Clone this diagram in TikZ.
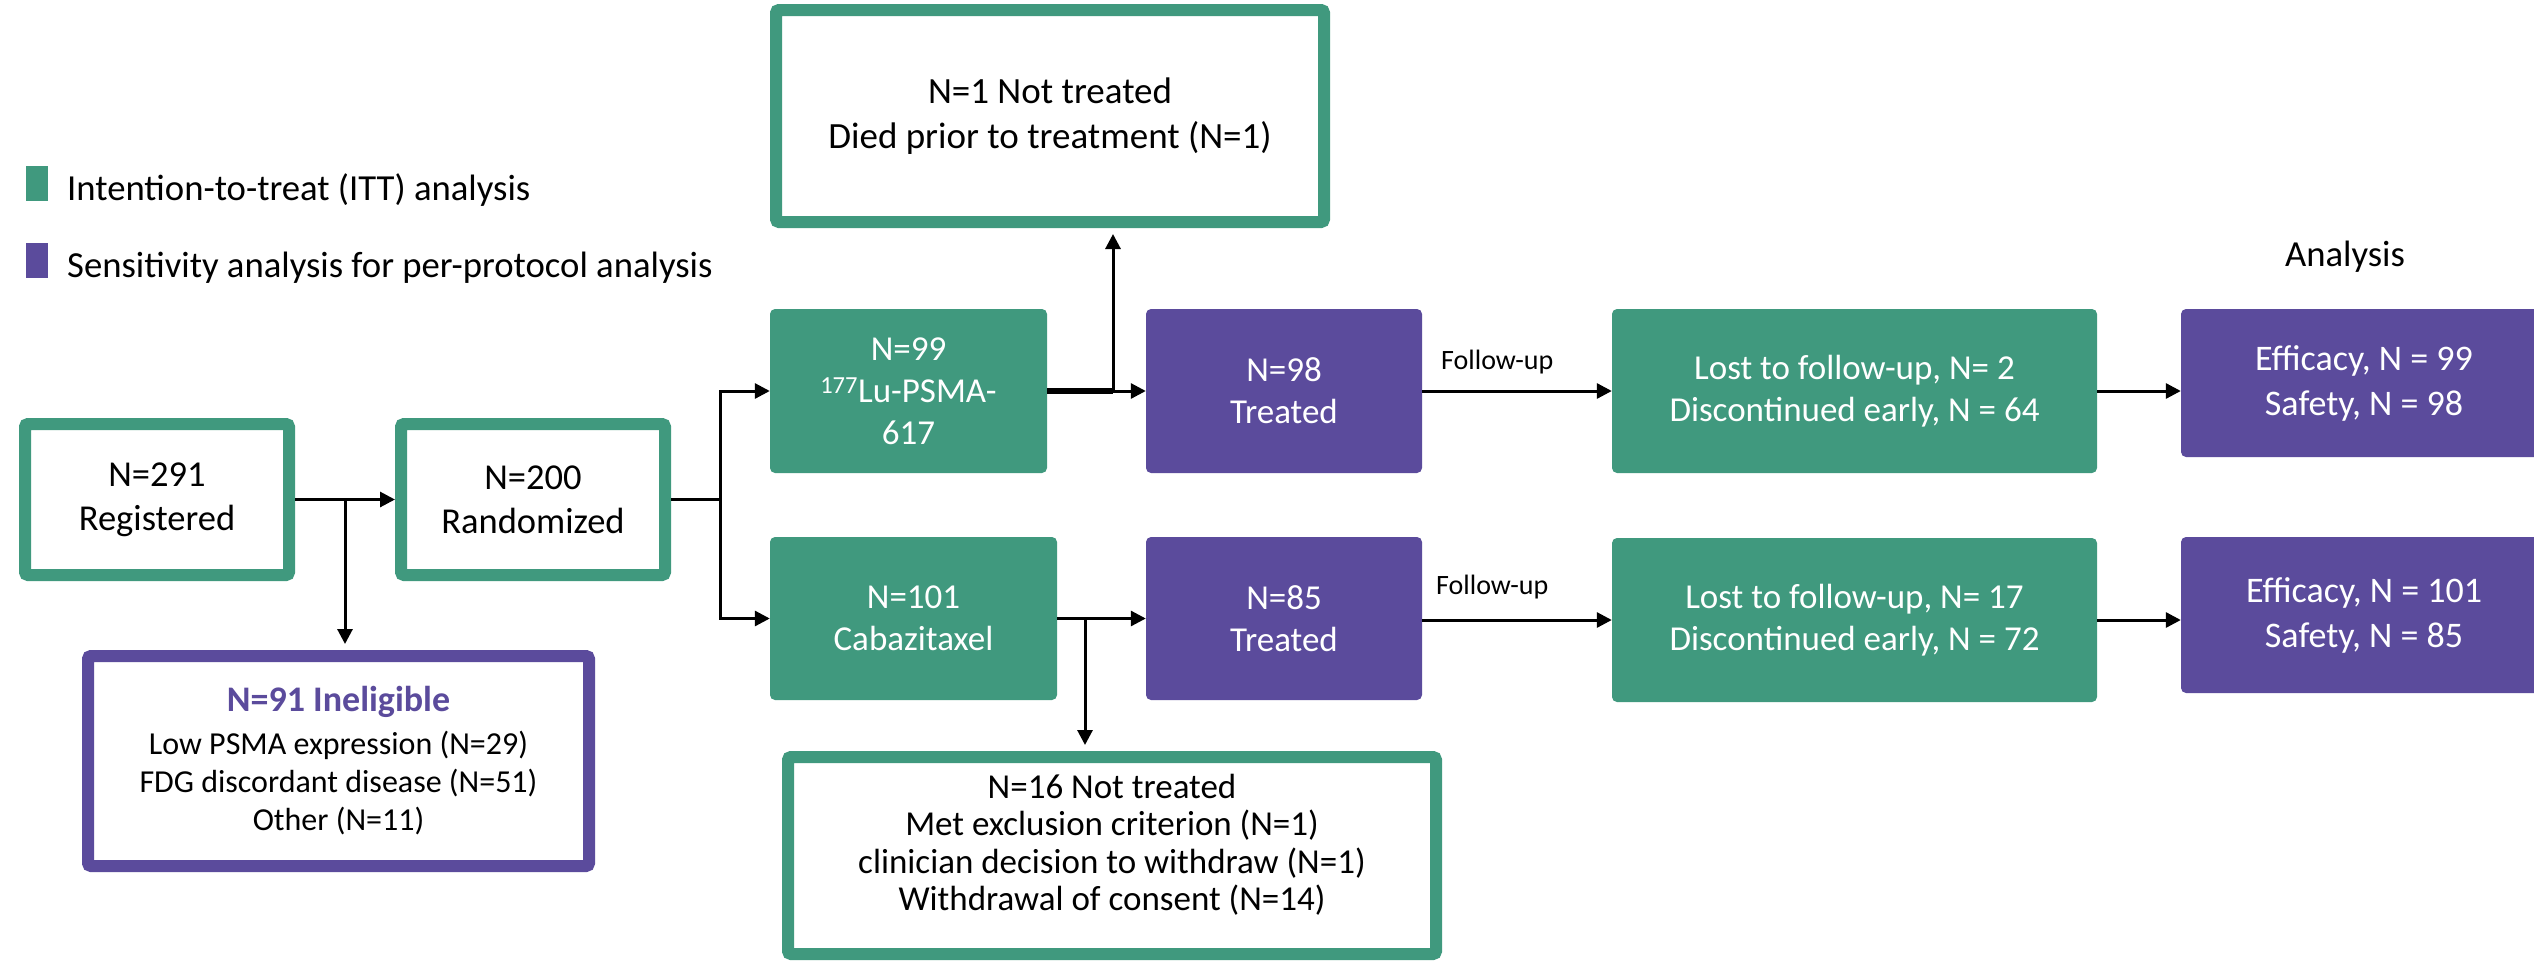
\documentclass[tikz,border=0pt]{standalone}
\usepackage{fontspec}
\setmainfont{Carlito}
\usetikzlibrary{arrows.meta}
\definecolor{itt}{RGB}{64,153,126}
\definecolor{pp}{RGB}{91,75,156}
\begin{document}
\begin{tikzpicture}[x=1pt,y=-1pt,
  fillbox/.style={draw=none, rounded corners=5pt, inner sep=0pt, align=center, text=white, font=\fontsize{35}{42}\selectfont},
  gbox/.style={fillbox, fill=itt},
  pbox/.style={fillbox, fill=pp},
  obox/.style={draw=itt, line width=12pt, fill=white, rounded corners=3pt, inner sep=0pt, align=center, font=\fontsize{36.5}{44}\selectfont},
  conn/.style={line width=3pt, -{Triangle[length=15pt,width=15pt]}},
  wire/.style={line width=3pt},
  lbl/.style={font=\fontsize{28}{34}\selectfont, inner sep=0pt},
  legtxt/.style={font=\fontsize{36.7}{42}\selectfont, inner sep=0pt}
]
\fill[white] (0,0) rectangle (2534,961);
\useasboundingbox (0,0) rectangle (2534,961);

% legend
\node[fill=itt, minimum width=22pt, minimum height=35pt, inner sep=0pt] (lg1) at (37,183.5) {};
\node[legtxt, anchor=base west] (lt1) at (67,200) {Intention-to-treat (ITT) analysis};
\node[fill=pp, minimum width=22pt, minimum height=35pt, inner sep=0pt] (lg2) at (37,260.5) {};
\node[legtxt, anchor=base west] (lt2) at (67,277) {Sensitivity analysis for per-protocol analysis};
\node[legtxt, anchor=base] (ana) at (2345,266) {Analysis};

% boxes
\node[obox, minimum width=548pt, minimum height=212pt, font=\fontsize{37}{45}\selectfont] (top) at (1050,116) {N=1 Not treated\\Died prior to treatment (N=1)};
\node[gbox, minimum width=277pt, minimum height=164pt] (n99) at (908.5,391) {N=99\\\textsuperscript{177}Lu-PSMA-\\617};
\node[pbox, minimum width=276pt, minimum height=164pt] (n98) at (1284,391) {N=98\\Treated};
\node[gbox, minimum width=485pt, minimum height=164pt] (lost1) at (1854.5,391) {Lost to follow-up, N= 2\\Discontinued early, N = 64};
\node[pbox, minimum width=366pt, minimum height=148pt, font=\fontsize{36}{45}\selectfont] (eff1) at (2364,383) {Efficacy, N = 99\\Safety, N = 98};

\node[obox, minimum width=264pt, minimum height=151pt] (n291) at (157,499.5) {N=291\\Registered};
\node[obox, minimum width=264pt, minimum height=151pt] (n200) at (533,499.5) {N=200\\Randomized};
\node[obox, draw=pp, minimum width=501pt, minimum height=210pt, font=\fontsize{32}{38}\selectfont] (inel) at (338.5,761) {\textcolor{pp}{\fontsize{36}{40}\selectfont\bfseries N=91 Ineligible}\\[5pt]Low PSMA expression (N=29)\\FDG discordant disease (N=51)\\Other (N=11)};

\node[gbox, minimum width=287pt, minimum height=163pt] (n101) at (913.5,618.5) {N=101\\Cabazitaxel};
\node[pbox, minimum width=276pt, minimum height=163pt] (n85) at (1284,618.5) {N=85\\Treated};
\node[gbox, minimum width=485pt, minimum height=164pt] (lost2) at (1854.5,620) {Lost to follow-up, N= 17\\Discontinued early, N = 72};
\node[pbox, minimum width=366pt, minimum height=156pt, font=\fontsize{36}{45}\selectfont] (eff2) at (2364,615) {Efficacy, N = 101\\Safety, N = 85};

\node[obox, minimum width=648pt, minimum height=197pt, font=\fontsize{35}{37.5}\selectfont] (n16) at (1112,855.5) {N=16 Not treated\\Met exclusion criterion (N=1)\\clinician decision to withdraw (N=1)\\Withdrawal of consent (N=14)\rule[-26pt]{0pt}{26pt}};

% labels
\node[lbl, anchor=base west] (fu1) at (1441,369) {Follow-up};
\node[lbl, anchor=base west] (fu2) at (1436,594) {Follow-up};

% connectors
\coordinate (j1) at (345,499.5);
\draw[conn] (n291.east) -- (n200.west);
\draw[conn, shorten >=6pt] (j1) -- (j1 |- inel.north);

\coordinate (sp) at (720,499.5);
\draw[wire] (n200.east) -- (sp);
\draw[conn] (sp) |- (n99.west);
\draw[conn] (sp) |- (n101.west);

\coordinate (b1) at (1113,391);
\draw[line width=6pt] (n99.east) -- (b1);
\draw[conn] (b1) -- (n98.west);
\draw[conn, shorten >=6pt] (b1) -- (b1 |- top.south);

\coordinate (b2) at (1085,618.5);
\draw[wire] (n101.east) -- (b2);
\draw[conn] (b2) -- (n85.west);
\draw[conn, shorten >=6pt] (b2) -- (b2 |- n16.north);

\draw[conn] (n98.east) -- (n98.east -| lost1.west);
\draw[conn] (n85.east |- lost2.west) -- (lost2.west);
\draw[conn] (lost1.east) -- (lost1.east -| eff1.west);
\draw[conn] (lost2.east) -- (lost2.east -| eff2.west);
\end{tikzpicture}
\end{document}
